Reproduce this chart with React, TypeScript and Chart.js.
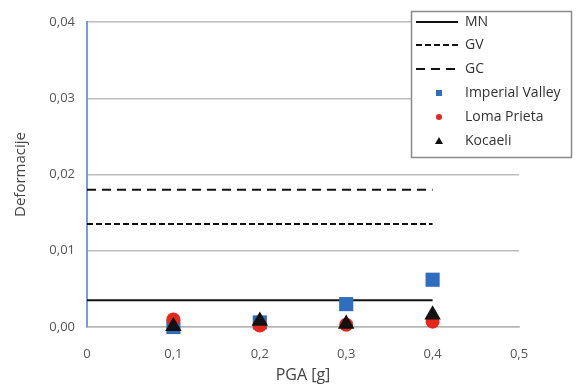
import React, { useEffect, useRef } from "react";
import { Chart, registerables } from "chart.js";

Chart.register(...registerables);

const xTickLabels = ["0", "0,1", "0,2", "0,3", "0,4", "0,5"];
const yTickLabels = ["0,00", "0,01", "0,02", "0,03", "0,04"];
const pga = [0.1, 0.2, 0.3, 0.4];
const lineX = [0, 0.4];

const mnLevel = 0.0035;
const gvLevel = 0.0135;
const gcLevel = 0.018;

const imperialValley = [0.0, 0.0006, 0.003, 0.0062];
const lomaPrieta = [0.001, 0.0002, 0.0003, 0.0007];
const kocaeli = [0.0001, 0.0008, 0.0004, 0.0016];

const FONT = "'Open Sans', 'Noto Sans', sans-serif";
const BLUE = "#2f6dbf";
const RED = "#e5261b";

const legendItems = [
  { label: "MN", kind: "line", dash: [] as number[] },
  { label: "GV", kind: "line", dash: [6, 3] },
  { label: "GC", kind: "line", dash: [9, 6] },
  { label: "Imperial Valley", kind: "rect", color: BLUE },
  { label: "Loma Prieta", kind: "circle", color: RED },
  { label: "Kocaeli", kind: "triangle", color: "#111" },
];

const legendPlugin = {
  id: "customLegend",
  afterDraw(chart: any) {
    const ctx = chart.ctx;
    ctx.save();
    const bx = 411.5, by = 11.5, bw = 160, bh = 146;
    ctx.fillStyle = "#ffffff";
    ctx.fillRect(bx, by, bw, bh);
    ctx.strokeStyle = "#8a8a8a";
    ctx.lineWidth = 1.5;
    ctx.strokeRect(bx, by, bw, bh);
    const rowY = [22, 45, 69, 93, 117, 141];
    legendItems.forEach((it: any, i: number) => {
      const y = rowY[i];
      if (it.kind === "line") {
        ctx.strokeStyle = "#111";
        ctx.lineWidth = 2;
        ctx.setLineDash(it.dash);
        ctx.beginPath();
        ctx.moveTo(416, y);
        ctx.lineTo(458, y);
        ctx.stroke();
        ctx.setLineDash([]);
      } else if (it.kind === "rect") {
        ctx.fillStyle = it.color;
        ctx.fillRect(436, y - 3, 6, 6);
      } else if (it.kind === "circle") {
        ctx.fillStyle = it.color;
        ctx.beginPath();
        ctx.arc(439, y, 3, 0, Math.PI * 2);
        ctx.fill();
      } else {
        ctx.fillStyle = it.color;
        ctx.beginPath();
        ctx.moveTo(439, y - 4);
        ctx.lineTo(443, y + 3);
        ctx.lineTo(435, y + 3);
        ctx.closePath();
        ctx.fill();
      }
      ctx.fillStyle = "#333";
      ctx.font = `14px ${FONT}`;
      ctx.textBaseline = "middle";
      ctx.textAlign = "left";
      ctx.fillText(it.label, 465, y);
    });
    ctx.restore();
  },
};

export default function App() {
  const ref = useRef<HTMLCanvasElement>(null);
  useEffect(() => {
    const lineDs = (label: string, level: number, dash: number[]) => ({
      label,
      type: "scatter" as const,
      data: lineX.map((x) => ({ x, y: level })),
      showLine: true,
      borderColor: "#111",
      borderWidth: 2,
      borderDash: dash,
      pointRadius: 0,
      fill: false,
      clip: false,
      order: 5,
    });
    const ptDs = (label: string, vals: number[], style: string, color: string, r: number, order: number) => ({
      label,
      type: "scatter" as const,
      data: pga.map((x, i) => ({ x, y: vals[i] })),
      pointStyle: style,
      pointRadius: r,
      pointHoverRadius: r,
      backgroundColor: color,
      borderColor: color,
      borderWidth: 0,
      clip: false,
      order,
    });
    const chart = new Chart(ref.current!, {
      type: "scatter",
      data: {
        datasets: [
          lineDs("MN", mnLevel, []),
          lineDs("GV", gvLevel, [6, 3]),
          lineDs("GC", gcLevel, [9, 6]),
          ptDs("Imperial Valley", imperialValley, "rect", BLUE, 10, 3),
          ptDs("Loma Prieta", lomaPrieta, "circle", RED, 7, 2),
          ptDs("Kocaeli", kocaeli, "triangle", "#111", 9.5, 1),
        ] as any,
      },
      options: {
        animation: false,
        responsive: false,
        maintainAspectRatio: false,
        layout: { padding: { top: 22, right: 57, left: 8, bottom: 0 } },
        plugins: { legend: { display: false }, tooltip: { enabled: false } },
        scales: {
          x: {
            type: "linear",
            min: 0,
            max: 0.5,
            ticks: {
              stepSize: 0.1,
              color: "#555",
              font: { family: FONT, size: 13 },
              padding: 11,
              callback: (_v: any, i: number) => xTickLabels[i],
            },
            grid: { display: false },
            border: { display: true, color: "#b5b5b5", width: 1.5 },
            title: {
              display: true,
              text: "PGA [g]",
              color: "#444",
              font: { family: FONT, size: 16 },
              padding: { top: 8 },
            },
            afterFit: (s: any) => {
              s.height = 62;
            },
          },
          y: {
            type: "linear",
            min: 0,
            max: 0.04,
            ticks: {
              stepSize: 0.01,
              color: "#555",
              font: { family: FONT, size: 13 },
              padding: 12,
              callback: (_v: any, i: number) => yTickLabels[i],
            },
            grid: { color: "#bdbdbd", lineWidth: 1.5, drawTicks: false },
            border: { display: true, color: "#6fa1d8", width: 2 },
            title: {
              display: true,
              text: "Deformacije",
              color: "#444",
              font: { family: FONT, size: 15 },
              padding: { bottom: 4 },
            },
            afterFit: (s: any) => {
              s.width = 79;
            },
          },
        },
      } as any,
      plugins: [legendPlugin],
    });
    return () => chart.destroy();
  }, []);
  return (
    <div style={{ position: "fixed", left: 0, top: 0, width: 576, height: 389, background: "#fff" }}>
      <canvas ref={ref} width={576} height={389} />
    </div>
  );
}
